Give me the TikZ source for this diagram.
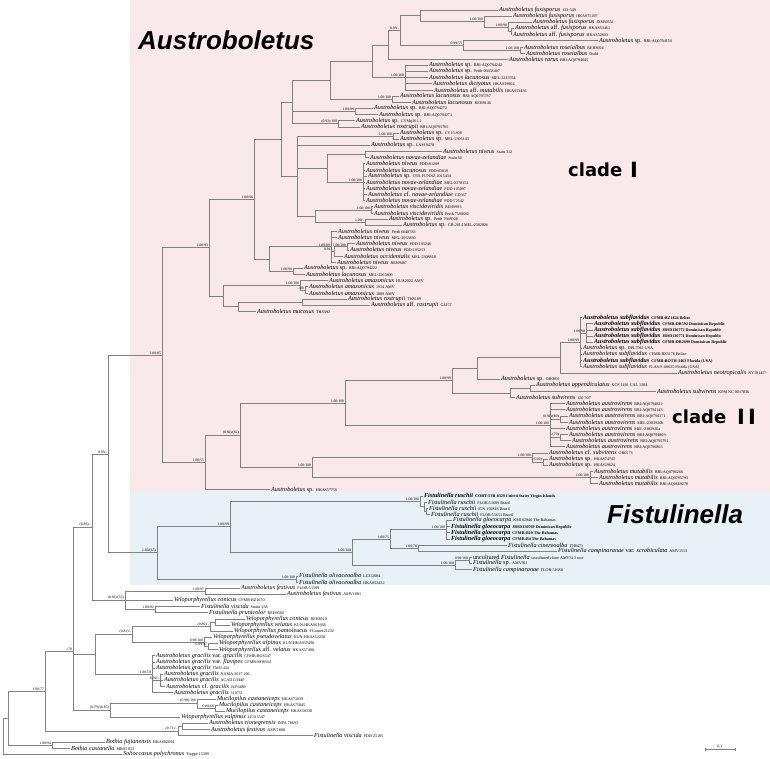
\documentclass[tikz,border=0pt]{standalone}
\usepackage{fontspec}
\setmainfont{Liberation Serif}
\newfontfamily\hlfont{Liberation Sans}
\newfontfamily\clfont{DejaVu Sans}
\usetikzlibrary{calc}
\definecolor{pinkbg}{RGB}{250,233,235}
\definecolor{bluebg}{RGB}{231,241,246}
\definecolor{brcol}{RGB}{130,130,130}
\newcommand\Aus{Austroboletus}
\newcommand\Fis{Fistulinella}
\newcommand\Vel{Veloporphyrellus}
\newcommand\up[1]{\textup{#1}}
\newcommand\vc[1]{\hspace{2pt}{\fontsize{4.1}{4.5}\selectfont\upshape #1}}
\newcommand\tipfont{\fontsize{6.2}{6.5}\selectfont\itshape}
\newcommand\tip[4]{\node[tipn] (t#1) at (#2,{-(10+(#1-1)*6.15)}) {#3\vc{#4}};}
\newcommand\btip[4]{\node[tipn,font=\tipfont\bfseries] (t#1) at (#2,{-(10+(#1-1)*6.15)}) {#3\vc{#4}};}
\newcommand\inode[4]{\path let \p1=(#3), \p2=(#4) in coordinate (#1) at (#2,{0.5*(\y1+\y2)});}
\newcommand\brs[2]{\foreach \q in {#2}{\draw[br] (#1) |- (\q);}}
\newcommand\sval[2]{\node[sv] (s-#1) at (#1) {#2};}
\tikzset{
  tipn/.style={anchor=west, inner xsep=0.8pt, inner ysep=0pt, font=\tipfont},
  br/.style={draw=brcol, line width=0.6pt},
  sv/.style={anchor=south east, font=\fontsize{3.7}{4}\selectfont, inner sep=0.3pt, xshift=-0.6pt, yshift=0.2pt},
  biglab/.style={anchor=base west, inner sep=0pt, font=\hlfont\bfseries\itshape\fontsize{26}{30}\selectfont},
  cladelab/.style={anchor=base west, inner sep=0pt, font=\clfont\bfseries\fontsize{18}{20}\selectfont},
  barlab/.style={anchor=base west, inner sep=0pt, font=\clfont\bfseries\fontsize{21}{22}\selectfont}
}
\begin{document}
\begin{tikzpicture}[x=1pt,y=1pt]
\useasboundingbox (0,0) rectangle (770,-759);
\fill[white] (0,0) rectangle (770,-759);
\fill[pinkbg] (130,0) rectangle (770,-492);
\fill[bluebg] (130,-492) rectangle (770,-585);
\node[biglab] (labA) at (138,-50) {Austroboletus};
\node[biglab] (labF) at (607,-523) {Fistulinella};
\node[cladelab] (c1) at (568,-177) {clade};
\node[barlab] (c1b) at (630,-178) {I};
\node[cladelab] (c2) at (672,-423) {clade};
\node[barlab] (c2b) at (737,-424) {I\hspace{3pt}I};
% ---------------- tips
\tip{1}{498}{\Aus{} fusisporus}{122-549}
\tip{2}{512}{\Aus{} fusisporus}{HKAS75207}
\tip{3}{532}{\Aus{} fusisporus}{JXSB0551}
\tip{4}{514}{\Aus{} \up{aff.} fusisporus}{HKAS53461}
\tip{5}{512}{\Aus{} \up{aff.} fusisporus}{HKAS52603}
\tip{6}{598}{\Aus{} \up{sp.}}{BRI:AQ0794156}
\tip{7}{523}{\Aus{} roseialbus}{REH8924}
\tip{8}{525}{\Aus{} roseialbus}{Dodd}
\tip{9}{508}{\Aus{} rarus}{BRI:AQ0794045}
\tip{10}{428}{\Aus{} \up{sp.}}{BRI:AQ0794242}
\tip{11}{428}{\Aus{} \up{sp.}}{Perth 06658407}
\tip{12}{428}{\Aus{} lacunosus}{MEL:2233764}
\tip{13}{432}{\Aus{} dictyotus}{HKAS59804}
\tip{14}{433}{\Aus{} \up{aff.} mutabilis}{HKAS53436}
\tip{15}{399}{\Aus{} lacunosus}{BRI:AQ0795787}
\tip{16}{411}{\Aus{} lacunosus}{REH9146}
\tip{17}{373}{\Aus{} \up{sp.}}{BRI:AQ0794272}
\tip{18}{378}{\Aus{} \up{sp.}}{BRI:AQ0794271}
\tip{19}{355}{\Aus{} \up{sp.}}{CYMq361.1}
\tip{20}{360}{\Aus{} rostrupii}{BRI:AQ0795705}
\tip{21}{399}{\Aus{} \up{sp.}}{CY15 808}
\tip{22}{399}{\Aus{} \up{sp.}}{MEL:2305143}
\tip{23}{370}{\Aus{} \up{sp.}}{LAM 8478}
\tip{24}{442}{\Aus{} niveus}{Stain 312}
\tip{25}{369}{\Aus{} novae-zelandiae}{Stain 50}
\tip{26}{365}{\Aus{} niveus}{PDD:81209}
\tip{27}{365}{\Aus{} lacunosus}{PDD:83819}
\tip{28}{367}{\Aus{} \up{sp.}}{OTA FUNNZ 2015434}
\tip{29}{365}{\Aus{} novae-zelandiae}{MEL:2378154}
\tip{30}{365}{\Aus{} novae-zelandiae}{PDD:105097}
\tip{31}{367}{\Aus{} \up{cf.} novae-zelandiae}{CD567}
\tip{32}{365}{\Aus{} novae-zelandiae}{PDD:72542}
\tip{33}{373}{\Aus{} viscidoviridis}{REH9993}
\tip{34}{373}{\Aus{} viscidoviridis}{Perth 7598682}
\tip{35}{388}{\Aus{} \up{sp.}}{Perth 7668928}
\tip{36}{402}{\Aus{} \up{sp.}}{GB-2014 MEL:2382826}
\tip{37}{337}{\Aus{} niveus}{Perth 6648783}
\tip{38}{337}{\Aus{} niveus}{MEL:2053830}
\tip{39}{355}{\Aus{} niveus}{PDD:105246}
\tip{40}{349}{\Aus{} niveus}{PDD:105213}
\tip{41}{343}{\Aus{} occidentalis}{MEL:2308818}
\tip{42}{336}{\Aus{} niveus}{REH9487}
\tip{43}{303}{\Aus{} \up{sp.}}{BRI:AQ0794222}
\tip{44}{305}{\Aus{} lacunosus}{MEL:2265809}
\tip{45}{328}{\Aus{} amazonicus}{HUA2022 AMV}
\tip{46}{308}{\Aus{} amazonicus}{1914 AMV}
\tip{47}{308}{\Aus{} amazonicus}{1809 AMV}
\tip{48}{347}{\Aus{} rostrupii}{TH8189}
\tip{49}{370}{\Aus{} \up{aff.} rostrupii}{G4157}
\tip{50}{256}{\Aus{} mucosus}{TH8380}
\btip{51}{582}{\Aus{} subflavidus}{CFMR:BZ1824 Belize}
\btip{52}{593}{\Aus{} subflavidus}{CFMR:DR592 Dominican Republic}
\btip{53}{593}{\Aus{} subflavidus}{JBSD130772 Dominican Republic}
\btip{54}{593}{\Aus{} subflavidus}{JBSD130771 Dominican Republic}
\btip{55}{593}{\Aus{} subflavidus}{CFMR:DR2899 Dominican Republic}
\tip{56}{582}{\Aus{} \up{sp.}}{DPL7941 USA}
\tip{57}{582}{\Aus{} subflavidus}{CFMR:BZ5178 Belize}
\btip{58}{582}{\Aus{} subflavidus}{CFMR:BOTH-3463 Florida (USA)}
\tip{59}{582}{\Aus{} subflavidus}{FLAS-F-60635 Florida (USA)}
\tip{60}{677}{\Aus{} neotropicalis}{NY181457}
\tip{61}{500}{\Aus{} \up{sp.}}{OR0891}
\tip{62}{535}{\Aus{} appendiculatus}{KCS 1401 CAL 1304}
\tip{63}{656}{\Aus{} subvirens}{KPM NC 0017836}
\tip{64}{515}{\Aus{} subvirens}{120 707}
\tip{65}{565}{\Aus{} austrovirens}{BRI:AQ0794822}
\tip{66}{565}{\Aus{} austrovirens}{BRI:AQ0794143}
\tip{67}{568}{\Aus{} austrovirens}{BRI:AQ0794171}
\tip{68}{568}{\Aus{} austrovirens}{MEL:2382920b}
\tip{69}{565}{\Aus{} austrovirens}{MEL:2382920a}
\tip{70}{568}{\Aus{} austrovirens}{BRI:AQ0794809}
\tip{71}{571}{\Aus{} austrovirens}{BRI:AQ0795791}
\tip{72}{565}{\Aus{} austrovirens}{BRI:AQ0796803}
\tip{73}{548}{\Aus{} \up{cf.} subvirens}{OR0573}
\tip{74}{548}{\Aus{} \up{sp.}}{HKAS74743}
\tip{75}{548}{\Aus{} \up{sp.}}{HKAS59624}
\tip{76}{593}{\Aus{} mutabilis}{BRI:AQ0796266}
\tip{77}{598}{\Aus{} mutabilis}{BRI:AQ0795793}
\tip{78}{598}{\Aus{} mutabilis}{BRI:AQ0669278}
\tip{79}{270}{\Aus{} \up{sp.}}{HKAS57756}
\btip{80}{423}{\Fis{} ruschii}{CORT:TJB-8329 United States Virgin Islands}
\tip{81}{427}{\Fis{} ruschii}{FLOR:51609 Brazil}
\tip{82}{428}{\Fis{} ruschii}{ICN 192818 Brazil}
\tip{83}{430}{\Fis{} ruschii}{FLOR:51611 Brazil}
\tip{84}{452}{\Fis{} gloeocarpa}{KM162946 The Bahamas}
\btip{85}{450}{\Fis{} gloeocarpa}{JBSD130769 Dominican Republic}
\btip{86}{450}{\Fis{} gloeocarpa}{CFMR:B10 The Bahamas}
\btip{87}{450}{\Fis{} gloeocarpa}{CFMR:B4 The Bahamas}
\tip{88}{507}{\Fis{} cinereoalba}{TH8471}
\tip{89}{557}{\Fis{} campinaranae \up{var.} scrobiculata}{AMV1513}
\tip{90}{472}{\up{uncultured} \Fis}{uncultured clone AMV313 root}
\tip{91}{472}{\Fis{} \up{sp.}}{AMV911}
\tip{92}{472}{\Fis{} campinaranae}{FLOR:51688}
\tip{93}{298}{\Fis{} olivaceoalba}{LE312084}
\tip{94}{298}{\Fis{} olivaceoalba}{HKAS53432}
\tip{95}{240}{\Aus{} festivus}{FLOR:51599}
\tip{96}{286}{\Aus{} festivus}{AMV1881}
\tip{97}{173}{\Vel{} conicus}{CFMR:BZ1670}
\tip{98}{200}{\Fis{} viscida}{Strain 238}
\tip{99}{208}{\Fis{} prunicolor}{REH9502}
\tip{100}{245}{\Vel{} conicus}{REH8510}
\tip{101}{230}{\Vel{} velatus}{KUN:HKAS63668}
\tip{102}{233}{\Vel{} pantoleucus}{FGomez21232}
\tip{103}{212}{\Vel{} pseudovelatus}{KUN:HKAS52258}
\tip{104}{218}{\Vel{} alpinus}{KUN:HKAS57490}
\tip{105}{218}{\Vel{} \up{aff.} velatus}{HKAS57490}
\tip{106}{155}{\Aus{} gracilis \up{var.} gracilis}{CFMR:BOS547}
\tip{107}{155}{\Aus{} gracilis \up{var.} flavipes}{CFMR:BOS562}
\tip{108}{155}{\Aus{} gracilis}{TMO 434}
\tip{109}{163}{\Aus{} gracilis}{NAMA 2017 106}
\tip{110}{163}{\Aus{} gracilis}{ACAD11344F}
\tip{111}{165}{\Aus{} \up{cf.} gracilis}{JLF6480}
\tip{112}{173}{\Aus{} gracilis}{310751}
\tip{113}{216}{Mucilopilus castaneiceps}{HKAS71039}
\tip{114}{218}{Mucilopilus castaneiceps}{HKAS75045}
\tip{115}{225}{Mucilopilus castaneiceps}{HKAS50338}
\tip{116}{180}{\Vel{} vulpinus}{LE315547}
\tip{117}{208}{\Aus{} rionegrensis}{INPA 78693}
\tip{118}{210}{\Aus{} festivus}{AMV1808}
\tip{119}{313}{\Fis{} viscida}{PDD:25185}
\tip{120}{105}{Bothia fujianensis}{HKAS82694}
\tip{121}{70}{Bothia castanella}{MB03 053}
\tip{122}{122}{Solioccasus polychronus}{Trappe 15399}
% ---------------- internal nodes
\inode{f45}{511}{t4}{t5}
\inode{f3}{508}{t3}{f45}
\inode{fus}{484}{t2}{f3}
\inode{f0}{420}{t1}{fus}
\inode{ros2}{520}{t7}{t8}
\inode{ros}{463}{t6}{ros2}
\inode{FR}{400}{f0}{ros}
\inode{nB}{388}{FR}{t9}
\inode{n1014}{405}{t10}{t14}
\inode{nC}{372}{nB}{n1014}
\inode{lac}{392}{t15}{t16}
\inode{nD}{330}{nC}{lac}
\inode{n1718}{355}{t17}{t18}
\inode{n1920}{338}{t19}{t20}
\inode{nE}{292}{nD}{n1920}
\inode{n2122}{393}{t21}{t22}
\inode{n2425}{365}{t24}{t25}
\inode{n2632}{363}{t26}{t32}
\inode{n2432}{327}{n2425}{n2632}
\inode{n3334}{371}{t33}{t34}
\inode{n3536}{365}{t35}{t36}
\inode{n3336}{315}{n3334}{n3536}
\inode{nG}{297}{n2122}{n3336}
\inode{nF}{281}{nE}{nG}
\inode{n3940}{347}{t39}{t40}
\inode{n39b}{334}{n3940}{t41}
\inode{n3742}{331}{t37}{t42}
\inode{n4344}{293}{t43}{t44}
\inode{n269}{269}{n3742}{n4344}
\inode{nH}{254}{nF}{n269}
\inode{n4647}{305}{t46}{t47}
\inode{amaz}{300}{t45}{n4647}
\inode{n4849}{302}{t48}{t49}
\inode{rm}{238}{n4849}{t50}
\inode{n223}{223}{amaz}{rm}
\inode{nI}{209}{nH}{n223}
\inode{sub1}{586}{t52}{t55}
\inode{sub}{580}{t51}{t59}
\inode{subN}{560}{sub}{t60}
\inode{n477}{477}{subN}{t61}
\inode{n6263}{530}{t62}{t63}
\inode{n6264}{510}{n6263}{t64}
\inode{n452}{452}{n477}{n6264}
\inode{av2}{560}{t67}{t68}
\inode{av3}{560}{t70}{t71}
\inode{av}{550}{t65}{t72}
\inode{n345}{345}{n452}{av}
\inode{n7475}{543}{t74}{t75}
\inode{cfs}{532}{t73}{n7475}
\inode{mut}{590}{t76}{t78}
\inode{n312}{312}{cfs}{mut}
\inode{n240}{240}{n345}{n312}
\inode{n205}{205}{n240}{t79}
\inode{n162}{162}{nI}{n205}
\inode{rus3}{426}{t82}{t83}
\inode{rus2}{424}{t81}{rus3}
\inode{rus}{420}{t80}{rus2}
\inode{gl}{446}{t84}{t87}
\inode{ci}{418}{t88}{t89}
\inode{n390}{390}{gl}{ci}
\inode{n9091}{469}{t90}{t91}
\inode{unc}{455}{n9091}{t92}
\inode{n352}{352}{n390}{unc}
\inode{n230}{230}{rus}{n352}
\inode{oliv}{296}{t93}{t94}
\inode{F0}{157}{n230}{oliv}
\inode{n108}{108}{n162}{F0}
\inode{fest}{205}{t95}{t96}
\inode{visc}{155}{t98}{t99}
\inode{n125}{125}{fest}{visc}
\inode{n92}{92}{n108}{n125}
\inode{V1a}{215}{t100}{t101}
\inode{V1}{210}{V1a}{t102}
\inode{V2a}{208}{t104}{t105}
\inode{V2}{204}{t103}{V2a}
\inode{n132}{132}{V1}{V2}
\inode{gr2}{160}{t109}{t111}
\inode{gr}{152}{t106}{t112}
\inode{n95}{95}{n132}{gr}
\inode{muc2}{215}{t114}{t115}
\inode{muc}{197}{t113}{muc2}
\inode{n110}{110}{muc}{t116}
\coordinate (n73) at (73,-651);
\inode{R2}{182}{t117}{t118}
\inode{R}{178}{R2}{t119}
\inode{n45}{45}{n73}{R}
\inode{both}{52}{t120}{t121}
\inode{n8}{8}{n45}{both}
\inode{root}{3}{n8}{t122}
% ---------------- branches
\brs{f45}{t4.west,t5.west}
\brs{f3}{t3.west,f45}
\brs{fus}{t2.west,f3}
\brs{f0}{t1.west,fus}
\brs{ros2}{t7.west,t8.west}
\brs{ros}{t6.west,ros2}
\brs{FR}{f0,ros}
\brs{nB}{FR,t9.west}
\brs{n1014}{t10.west,t11.west,t12.west,t13.west,t14.west}
\brs{nC}{nB,n1014}
\brs{lac}{t15.west,t16.west}
\brs{nD}{nC,lac}
\brs{n1718}{t17.west,t18.west}
\brs{n1920}{t19.west,t20.west}
\brs{nE}{nD,n1718,n1920}
\brs{n2122}{t21.west,t22.west}
\brs{n2425}{t24.west,t25.west}
\brs{n2632}{t26.west,t27.west,t28.west,t29.west,t30.west,t31.west,t32.west}
\brs{n2432}{n2425,n2632}
\brs{n3334}{t33.west,t34.west}
\brs{n3536}{t35.west,t36.west}
\brs{n3336}{n3334,n3536}
\brs{nG}{n2122,t23.west,n2432,n3336}
\brs{nF}{nE,nG}
\brs{n3940}{t39.west,t40.west}
\brs{n39b}{n3940,t41.west}
\brs{n3742}{t37.west,t38.west,n39b,t42.west}
\brs{n4344}{t43.west,t44.west}
\brs{n269}{n3742,n4344}
\brs{nH}{nF,n269}
\brs{n4647}{t46.west,t47.west}
\brs{amaz}{t45.west,n4647}
\brs{n4849}{t48.west,t49.west}
\brs{rm}{n4849,t50.west}
\brs{n223}{amaz,rm}
\brs{nI}{nH,n223}
\brs{sub1}{t52.west,t53.west,t54.west,t55.west}
\brs{sub}{t51.west,sub1,t56.west,t57.west,t58.west,t59.west}
\brs{subN}{sub,t60.west}
\brs{n477}{subN,t61.west}
\brs{n6263}{t62.west,t63.west}
\brs{n6264}{n6263,t64.west}
\brs{n452}{n477,n6264}
\brs{av2}{t67.west,t68.west}
\brs{av3}{t70.west,t71.west}
\brs{av}{t65.west,t66.west,av2,t69.west,av3,t72.west}
\brs{n345}{n452,av}
\brs{n7475}{t74.west,t75.west}
\brs{cfs}{t73.west,n7475}
\brs{mut}{t76.west,t77.west,t78.west}
\brs{n312}{cfs,mut}
\brs{n240}{n345,n312}
\brs{n205}{n240,t79.west}
\brs{n162}{nI,n205}
\brs{rus3}{t82.west,t83.west}
\brs{rus2}{t81.west,rus3}
\brs{rus}{t80.west,rus2}
\brs{gl}{t84.west,t85.west,t86.west,t87.west}
\brs{ci}{t88.west,t89.west}
\brs{n390}{gl,ci}
\brs{n9091}{t90.west,t91.west}
\brs{unc}{n9091,t92.west}
\brs{n352}{n390,unc}
\brs{n230}{rus,n352}
\brs{oliv}{t93.west,t94.west}
\brs{F0}{n230,oliv}
\brs{n108}{n162,F0}
\brs{fest}{t95.west,t96.west}
\brs{visc}{t98.west,t99.west}
\brs{n125}{fest,t97.west,visc}
\brs{n92}{n108,n125}
\brs{V1a}{t100.west,t101.west}
\brs{V1}{V1a,t102.west}
\brs{V2a}{t104.west,t105.west}
\brs{V2}{t103.west,V2a}
\brs{n132}{V1,V2}
\brs{gr2}{t109.west,t110.west,t111.west}
\brs{gr}{t106.west,t107.west,t108.west,gr2,t112.west}
\brs{n95}{n132,gr}
\brs{muc2}{t114.west,t115.west}
\brs{muc}{t113.west,muc2}
\brs{n110}{muc,t116.west}
\brs{n73}{n92,n95,n110}
\brs{R2}{t117.west,t118.west}
\brs{R}{R2,t119.west}
\brs{n45}{n73,R}
\brs{both}{t120.west,t121.west}
\brs{n8}{n45,both}
\brs{root}{n8,t122.west}
% ---------------- support values
\sval{fus}{1.00/100}
\sval{f3}{1.00/98}
\sval{ros}{0.99/55}
\sval{ros2}{1.00/100}
\sval{FR}{0.99/-}
\sval{n1014}{1.00/100}
\sval{lac}{1.00/100}
\sval{n1718}{1.00/99}
\sval{n1920}{(0.93)/100}
\sval{n2122}{1.00/100}
\sval{n2632}{1.00/100}
\sval{n3334}{1.00/100}
\sval{n3536}{1.00/-}
\sval{n3742}{1.00/99}
\sval{n39b}{0.91/-}
\sval{n3940}{1.00/100}
\sval{n4344}{1.00/99}
\sval{amaz}{1.00/100}
\sval{n4647}{-/80}
\sval{nH}{1.00/96}
\sval{nI}{1.00/93}
\sval{n162}{1.00/85}
\sval{sub}{1.00/99}
\sval{sub1}{1.00/98}
\sval{n452}{1.00/99}
\sval{n345}{1.00/100}
\sval{av}{1.00/100}
\sval{av2}{(0.92)/(80)}
\sval{av3}{-/(70)}
\sval{n240}{(0.92)/(61)}
\sval{n205}{1.00/55}
\sval{n312}{1.00/100}
\sval{cfs}{1.00/100}
\sval{n7475}{-/(100)}
\sval{mut}{1.00/100}
\sval{rus}{1.00/100}
\sval{gl}{1.00/100}
\sval{ci}{1.00/70}
\sval{n390}{1.00/75}
\sval{n9091}{0.99/100}
\sval{unc}{1.00/100}
\sval{n352}{1.00/100}
\sval{n230}{1.00/99}
\sval{oliv}{1.00/100}
\sval{F0}{1.00/(65)}
\sval{n108}{0.99/-}
\sval{n92}{(0.86)/-}
\sval{fest}{1.00/97}
\sval{visc}{1.00/92}
\sval{n125}{(0.93)/(55)}
\sval{V1}{(0.80)/-}
\sval{V2}{0.98/100}
\sval{V2a}{0.99/97}
\sval{n132}{(0.81)/-}
\sval{gr}{1.00/58}
\sval{gr2}{0.92/-}
\sval{n73}{-/78}
\sval{muc}{(0.98)/100}
\sval{muc2}{0.88/69}
\sval{n110}{(0.79)/(0.85)}
\sval{R}{(0.71)/-}
\sval{n45}{1.00/77}
\sval{both}{1.00/94}
% ---------------- scale bar
\coordinate (sb1) at (705,-749);
\coordinate (sb2) at (735,-749);
\draw[br] (sb1) -- (sb2);
\draw[br] ($(sb1)+(0,1.5)$) -- ($(sb1)+(0,-1.5)$);
\draw[br] ($(sb2)+(0,1.5)$) -- ($(sb2)+(0,-1.5)$);
\node[font=\fontsize{3.7}{4}\selectfont, anchor=south, inner sep=0.5pt] (sbl) at ($(sb1)!0.5!(sb2)+(0,1)$) {0.1};
\end{tikzpicture}
\end{document}
